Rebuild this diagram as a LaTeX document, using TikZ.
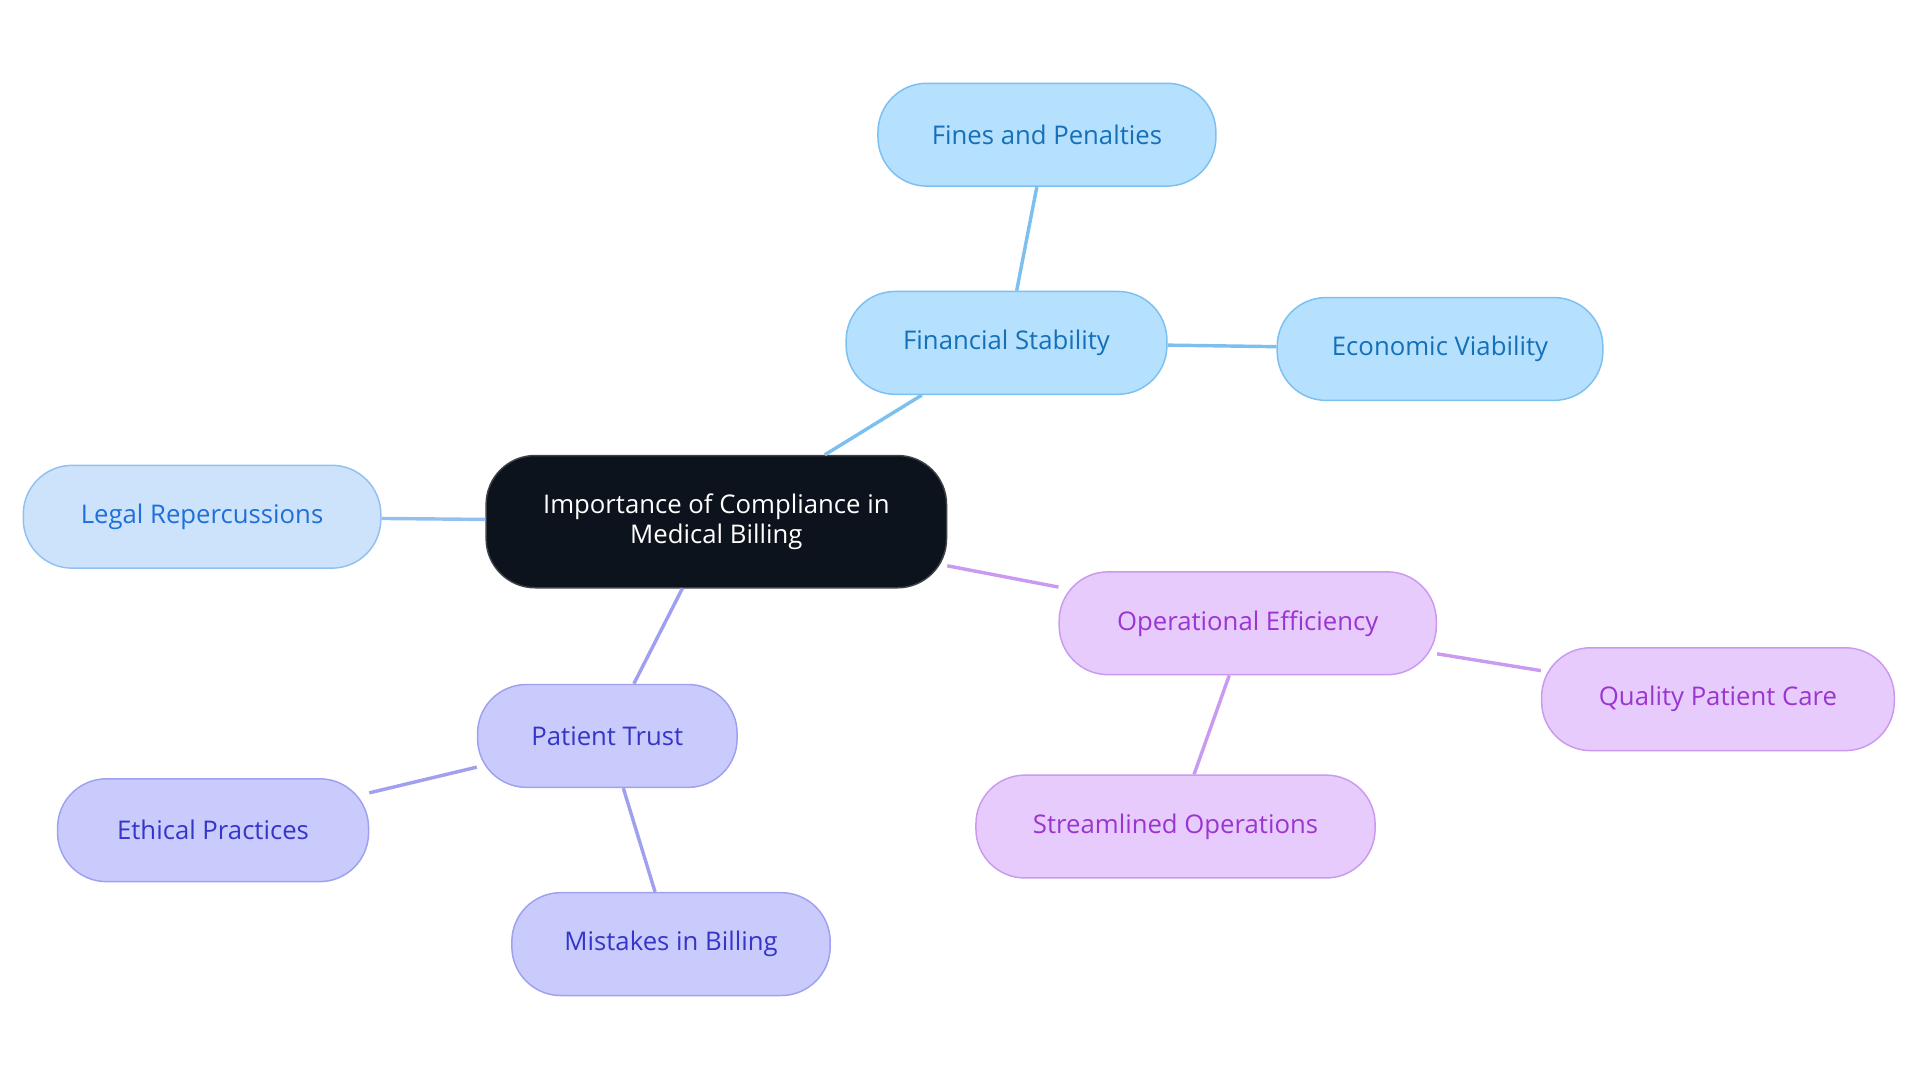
\documentclass[tikz,border=0pt]{standalone}
\usepackage{fontspec}
\setmainfont{Open Sans}
\definecolor{rootfill}{HTML}{0D131C}
\definecolor{bluefill}{HTML}{B5E0FE}
\definecolor{bluedraw}{HTML}{7CC0F0}
\definecolor{bluetext}{HTML}{1570B8}
\definecolor{legalfill}{HTML}{CCE3FB}
\definecolor{legaldraw}{HTML}{93C0EE}
\definecolor{legaltext}{HTML}{1E6FD9}
\definecolor{purpfill}{HTML}{E8CBFD}
\definecolor{purpdraw}{HTML}{C99AEF}
\definecolor{purptext}{HTML}{9A35D0}
\definecolor{indfill}{HTML}{CACBFD}
\definecolor{inddraw}{HTML}{9FA0EF}
\definecolor{indtext}{HTML}{3535C8}
\tikzset{
  box/.style={rounded corners=20pt, minimum height=42pt, font=\fontsize{10.5}{12}\selectfont, line width=0.6pt},
  blue/.style={box, fill=bluefill, draw=bluedraw, text=bluetext},
  legal/.style={box, fill=legalfill, draw=legaldraw, text=legaltext},
  purp/.style={box, fill=purpfill, draw=purpdraw, text=purptext},
  ind/.style={box, fill=indfill, draw=inddraw, text=indtext},
  link/.style={line width=1.4pt}
}
\begin{document}
\begin{tikzpicture}[x=0.5pt,y=-0.5pt]
  \useasboundingbox (0,0) rectangle (1568,884);
  % root
  \node[box, fill=rootfill, draw=rootfill!80!white, text=white, minimum width=188pt, minimum height=54pt, align=center] (root) at (585,426) {Importance of Compliance in\\Medical Billing};
  % branches
  \node[blue, minimum width=131pt] (fin) at (822,280) {Financial Stability};
  \node[blue, minimum width=138pt] (fines) at (855,110) {Fines and Penalties};
  \node[blue, minimum width=133pt] (econ) at (1176,285) {Economic Viability};
  \node[legal, minimum width=146pt] (legal) at (165,422) {Legal Repercussions};
  \node[purp, minimum width=154pt] (oper) at (1019,509) {Operational Efficiency};
  \node[purp, minimum width=144pt] (qual) at (1403,571) {Quality Patient Care};
  \node[purp, minimum width=163pt] (stream) at (960,675) {Streamlined Operations};
  \node[ind, minimum width=106pt] (trust) at (496,601) {Patient Trust};
  \node[ind, minimum width=127pt] (ethic) at (174,678) {Ethical Practices};
  \node[ind, minimum width=130pt] (mist) at (548,771) {Mistakes in Billing};
  % links
  \begin{scope}[on background layer/.style={}]
  \end{scope}
  \draw[link, bluedraw] (root) -- (fin);
  \draw[link, bluedraw] (fin) -- (fines);
  \draw[link, bluedraw] (fin) -- (econ);
  \draw[link, legaldraw] (root) -- (legal);
  \draw[link, purpdraw] (root) -- (oper);
  \draw[link, purpdraw] (oper) -- (qual);
  \draw[link, purpdraw] (oper) -- (stream);
  \draw[link, inddraw] (root) -- (trust);
  \draw[link, inddraw] (trust) -- (ethic);
  \draw[link, inddraw] (trust) -- (mist);
\end{tikzpicture}
\end{document}
